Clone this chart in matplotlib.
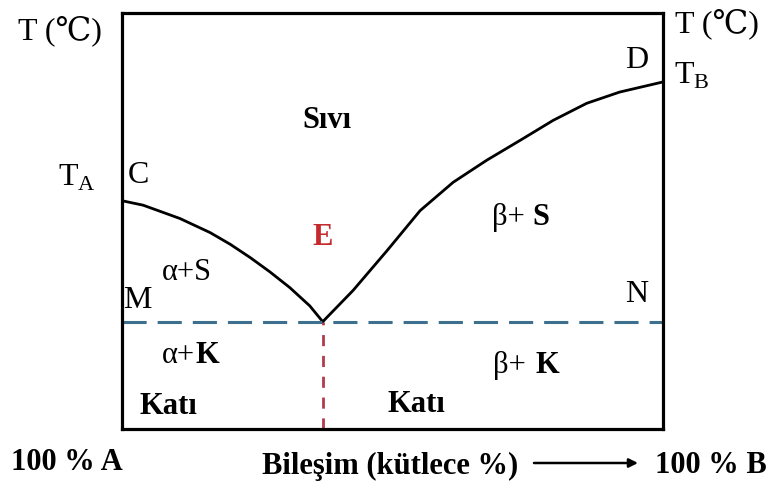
import matplotlib
matplotlib.use('Agg')
import matplotlib.pyplot as plt

# Ötektik faz diyagramı (A-B ikili sistemi)
SERIF = ['Liberation Serif', 'DejaVu Serif']

# Likidüs eğrileri: bileşim (% B) ve sıcaklık (keyfi birim)
liq_a_x = [0.0, 4.0, 10.8, 16.4, 20.1, 23.8, 27.4, 31.1, 34.8, 37.2]
liq_a_t = [54.9, 53.8, 50.6, 47.2, 44.4, 41.2, 37.8, 34.0, 29.6, 25.8]
liq_b_x = [37.2, 42.8, 49.1, 55.2, 61.3, 67.5, 73.7, 79.8, 86.0, 92.1, 100.0]
liq_b_t = [25.8, 33.3, 42.9, 52.5, 59.3, 64.6, 69.4, 74.2, 78.3, 81.0, 83.4]

eutectic_x = 37.2
eutectic_t = 25.8

fig = plt.figure(figsize=(7.68, 4.83), dpi=100)
ax = fig.add_axes([121.5 / 768, 1 - 429 / 483, 541 / 768, 416 / 483])
ax.set_xlim(0, 100)
ax.set_ylim(0, 100)
ax.set_xticks([])
ax.set_yticks([])
for s in ax.spines.values():
    s.set_linewidth(2.3)
    s.set_color('black')

ax.plot(liq_a_x, liq_a_t, color='black', lw=2.0, solid_joinstyle='round')
ax.plot(liq_b_x, liq_b_t, color='black', lw=2.0, solid_joinstyle='round')

# ötektik yatay çizgi (M-N) ve dikey ötektik bileşim çizgisi
ax.plot([0, 100], [eutectic_t, eutectic_t], color='#3d6f8e', lw=2.2,
        dashes=(7.9, 3.6))
ax.plot([eutectic_x, eutectic_x], [0, eutectic_t], color='#b23a4a', lw=2.0,
        dashes=(4, 3.5))


def px(x, y):
    """piksel konumunu eksen koordinatına çevirir"""
    return (x - 121.5) / 5.41, (429 - y) / 4.16


def label(x, y, s, size=23, weight='normal', color='black'):
    # y: yazının taban çizgisi
    dx, dy = px(x, y)
    ax.text(dx, dy, s, fontsize=size, fontweight=weight, color=color,
            ha='left', va='baseline', family=SERIF, clip_on=False)


label(18, 39, 'T (℃)')
label(675, 32, 'T (℃)')
label(625, 68, 'D')
label(674, 84, r'T$_\mathregular{B}$')
label(58, 186, r'T$_\mathregular{A}$')
label(128, 183, 'C')
label(302, 128, 'Sıvı', size=22, weight='bold')
label(312, 245, 'E', size=22, weight='bold', color='#c42a2e')
label(492, 225, 'β+', size=22)
label(532, 225, 'S', size=22, weight='bold')
label(162, 280, 'α+S', size=22)
label(123, 308, 'M')
label(625, 302, 'N')
label(162, 363, 'α+', size=22)
label(196, 363, 'K', size=22, weight='bold')
label(493, 373, 'β+', size=22)
label(535, 373, 'K', size=22, weight='bold')
label(140, 414, 'Katı', size=22, weight='bold')
label(388, 412, 'Katı', size=22, weight='bold')
label(11, 470, '100 % A', size=22, weight='bold')
label(262, 474, 'Bileşim (kütlece %)', size=22, weight='bold')
label(655, 473, '100 % B', size=22, weight='bold')

a0 = px(534, 463)
a1 = px(638, 463)
ax.annotate('', xy=a1, xytext=a0, annotation_clip=False,
            arrowprops=dict(arrowstyle='-|>', color='black', lw=1.8,
                            mutation_scale=13, shrinkA=0, shrinkB=0))

fig.savefig('out.png', dpi=100)
